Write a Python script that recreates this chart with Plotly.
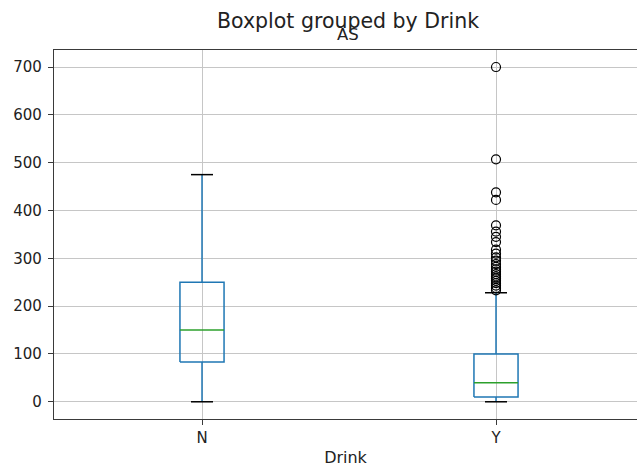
import plotly.graph_objects as go

# Summary statistics of "AS" for each value of "Drink"
drink = ["N", "Y"]
positions = [1, 2]
whisker_low = [0, 0]
q1 = [83, 10]
median = [150, 40]
q3 = [250, 100]
whisker_high = [475, 228]

# Points beyond the upper whisker (only the "Y" group has any)
outliers_y = [233, 238, 243, 248, 253, 258, 262, 267, 272, 277, 282, 288,
              295, 302, 310, 318, 334, 345, 356, 369, 422, 438, 507, 700]
y_ticks = [0, 100, 200, 300, 400, 500, 600, 700]

BOX_W = 0.15
BLUE = "#1f77b4"
GREEN = "#2ca02c"
FONT = "DejaVu Sans"

fig = go.Figure()

for p, lo, a, m, b, hi in zip(positions, whisker_low, q1, median, q3, whisker_high):
    half = BOX_W / 2
    # box outline
    fig.add_trace(go.Scatter(
        x=[p - half, p + half, p + half, p - half, p - half],
        y=[a, a, b, b, a], mode="lines",
        line=dict(color=BLUE, width=1.5), hoverinfo="skip", showlegend=False))
    # whiskers
    fig.add_trace(go.Scatter(
        x=[p, p, None, p, p], y=[lo, a, None, b, hi], mode="lines",
        line=dict(color=BLUE, width=1.5), hoverinfo="skip", showlegend=False))
    # caps
    fig.add_trace(go.Scatter(
        x=[p - half / 2, p + half / 2, None, p - half / 2, p + half / 2],
        y=[lo, lo, None, hi, hi], mode="lines",
        line=dict(color="black", width=1.5), hoverinfo="skip", showlegend=False))
    # median
    fig.add_trace(go.Scatter(
        x=[p - half, p + half], y=[m, m], mode="lines",
        line=dict(color=GREEN, width=1.5), hoverinfo="skip", showlegend=False))

# fliers
fig.add_trace(go.Scatter(
    x=[positions[1]] * len(outliers_y), y=outliers_y, mode="markers",
    marker=dict(symbol="circle-open", size=9, color="black", line=dict(width=1.2)),
    hoverinfo="skip", showlegend=False))

axis_common = dict(
    showgrid=True, gridcolor="#c6c6c6", gridwidth=1, zeroline=False,
    showline=True, linecolor="#3a3a3a", linewidth=1.2,
    ticks="outside", ticklen=5, tickwidth=1, tickcolor="#3a3a3a",
    tickfont=dict(family=FONT, size=15, color="#222"),
)

fig.update_layout(
    width=637, height=467,
    margin=dict(l=54, r=0, t=50, b=48),
    paper_bgcolor="white", plot_bgcolor="white",
    font=dict(family=FONT, color="#222"),
    xaxis=dict(
        **axis_common, mirror=True,
        range=[0.4966, 2.4796], tickvals=positions, ticktext=drink,
        title=dict(text="Drink", font=dict(family=FONT, size=16, color="#222"), standoff=11),
        automargin=False,
    ),
    yaxis=dict(
        **axis_common, mirror=False,
        range=[-36, 735.6], tickvals=y_ticks, ticklabelstandoff=3,
        automargin=False,
    ),
    annotations=[
        dict(text="Boxplot grouped by Drink", xref="paper", yref="paper",
             x=0.5043, y=1.078, xanchor="center", yanchor="middle", showarrow=False,
             font=dict(family=FONT, size=20.5, color="#222")),
        dict(text="AS", xref="paper", yref="paper",
             x=0.5043, y=1.043, xanchor="center", yanchor="middle", showarrow=False,
             font=dict(family=FONT, size=16.5, color="#222")),
    ],
)

fig.write_html("out.html")
